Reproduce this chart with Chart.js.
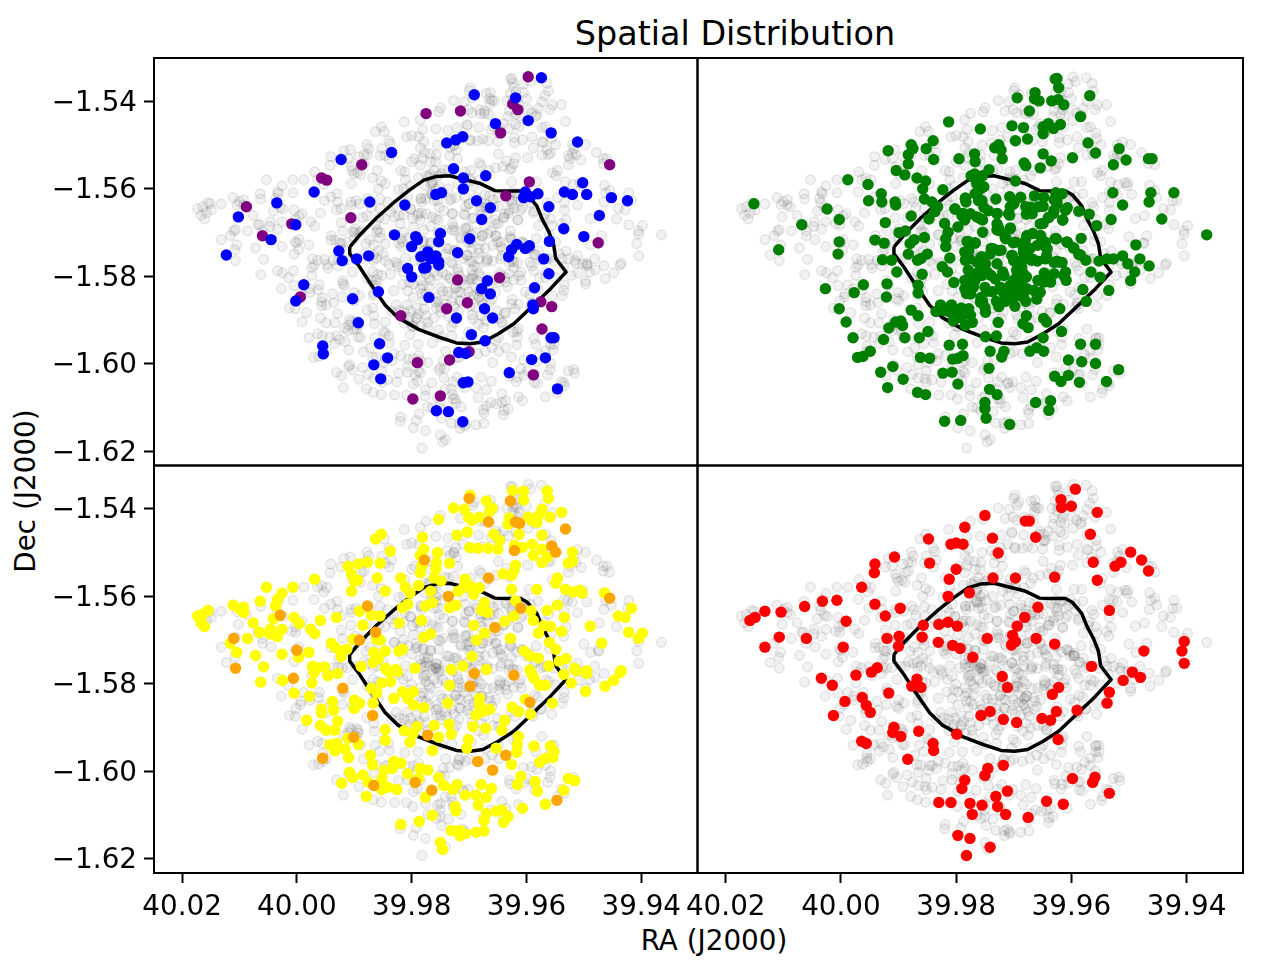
<!DOCTYPE html>
<html><head><meta charset="utf-8">
<script src="https://cdn.jsdelivr.net/npm/chart.js@4"></script>
<style>
html,body{margin:0;padding:0;background:#fff;width:1280px;height:960px;overflow:hidden}
canvas{position:absolute;left:0;top:0}
.t{position:absolute;font-family:"DejaVu Sans";color:#000;white-space:nowrap;transform:translate(-50%,-50%)}
</style></head><body>
<div class="t" style="left:735px;top:33px;font-size:33.4px">Spatial Distribution</div>
<div class="t" style="left:714px;top:940px;font-size:27.8px">RA (J2000)</div>
<div class="t" style="left:25px;top:491px;font-size:27.8px;transform:translate(-50%,-50%) rotate(-90deg)">Dec (J2000)</div>
<canvas id="c0" width="1280" height="960"></canvas>
<canvas id="c1" width="1280" height="960"></canvas>
<canvas id="c2" width="1280" height="960"></canvas>
<canvas id="c3" width="1280" height="960"></canvas>
<script>
const raTicks=[40.02,40.00,39.98,39.96,39.94];
const decTicks=[-1.54,-1.56,-1.58,-1.60,-1.62];
const contour=[[39.9908,-1.5733],[39.9891,-1.5706],[39.9861,-1.5666],[39.9831,-1.5631],[39.9804,-1.5603],[39.9779,-1.5580],[39.9758,-1.5572],[39.9734,-1.5570],[39.9710,-1.5578],[39.9682,-1.5587],[39.9655,-1.5604],[39.9637,-1.5605],[39.9610,-1.5605],[39.9598,-1.5614],[39.9582,-1.5639],[39.9573,-1.5668],[39.9561,-1.5698],[39.9553,-1.5725],[39.9549,-1.5759],[39.9531,-1.5790],[39.9558,-1.5828],[39.9588,-1.5866],[39.9622,-1.5908],[39.9649,-1.5931],[39.9676,-1.5950],[39.9698,-1.5954],[39.9722,-1.5952],[39.9752,-1.5939],[39.9788,-1.5921],[39.9825,-1.5893],[39.9846,-1.5866],[39.9870,-1.5820],[39.9891,-1.5778],[39.9908,-1.5748],[39.9908,-1.5733]];
const purple=[[39.9775,-1.5428],[39.9887,-1.5545],[39.9957,-1.5575],[39.9948,-1.5580],[40.0088,-1.5641],[40.0009,-1.5680],[39.9906,-1.5666],[40.0060,-1.5707],[39.9597,-1.5344],[39.9715,-1.5422],[39.9624,-1.5406],[39.9615,-1.5419],[39.9645,-1.5472],[39.9455,-1.5545],[39.9595,-1.5584],[39.9636,-1.5616],[39.9475,-1.5723],[39.9994,-1.5847],[39.9819,-1.5890],[39.9790,-1.5997],[39.9798,-1.6080],[39.9720,-1.5808],[39.9647,-1.5803],[39.9703,-1.5860],[39.9739,-1.5874],[39.9575,-1.5858],[39.9556,-1.5869],[39.9573,-1.5920],[39.9700,-1.5972],[39.9734,-1.5991],[39.9588,-1.6025],[39.9750,-1.6073]];
const blue=[[39.9835,-1.5517],[39.9923,-1.5533],[39.9970,-1.5607],[40.0035,-1.5632],[39.9873,-1.5630],[39.9812,-1.5637],[40.0102,-1.5664],[40.0002,-1.5682],[40.0045,-1.5716],[39.9830,-1.5705],[39.9793,-1.5709],[39.9790,-1.5716],[39.9800,-1.5732],[40.0123,-1.5751],[39.9927,-1.5742],[39.9875,-1.5753],[39.9896,-1.5760],[39.9921,-1.5764],[39.9784,-1.5755],[39.9775,-1.5751],[39.9772,-1.5744],[39.9758,-1.5753],[39.9753,-1.5767],[39.9753,-1.5774],[39.9775,-1.5780],[39.9767,-1.5759],[39.9800,-1.5801],[39.9807,-1.5782],[39.9574,-1.5346],[39.9691,-1.5385],[39.9619,-1.5392],[39.9597,-1.5444],[39.9654,-1.5451],[39.9557,-1.5472],[39.9511,-1.5493],[39.9739,-1.5495],[39.9723,-1.5488],[39.9711,-1.5481],[39.9727,-1.5554],[39.9671,-1.5570],[39.9710,-1.5575],[39.9710,-1.5600],[39.9502,-1.5586],[39.9534,-1.5607],[39.9520,-1.5613],[39.9495,-1.5613],[39.9452,-1.5620],[39.9424,-1.5627],[39.9758,-1.5613],[39.9748,-1.5609],[39.9687,-1.5627],[39.9663,-1.5643],[39.9602,-1.5607],[39.9605,-1.5620],[39.9593,-1.5618],[39.9580,-1.5611],[39.9561,-1.5641],[39.9473,-1.5661],[39.9678,-1.5670],[39.9535,-1.5691],[39.9500,-1.5709],[39.9750,-1.5702],[39.9753,-1.5721],[39.9699,-1.5714],[39.9560,-1.5720],[39.9617,-1.5727],[39.9626,-1.5739],[39.9631,-1.5755],[39.9595,-1.5730],[39.9602,-1.5736],[39.9720,-1.5746],[39.9570,-1.5760],[39.9988,-1.5819],[40.0002,-1.5856],[39.9903,-1.5851],[39.9893,-1.5906],[39.9858,-1.5835],[39.9955,-1.5959],[39.9954,-1.5977],[39.9856,-1.5954],[39.9842,-1.5986],[39.9866,-1.6002],[39.9854,-1.6034],[39.9779,-1.5781],[39.9668,-1.5810],[39.9678,-1.5828],[39.9663,-1.5840],[39.9770,-1.5848],[39.9561,-1.5794],[39.9586,-1.5826],[39.9673,-1.5874],[39.9659,-1.5895],[39.9722,-1.5895],[39.9589,-1.5865],[39.9588,-1.5874],[39.9696,-1.5933],[39.9672,-1.5947],[39.9557,-1.5940],[39.9552,-1.5940],[39.9718,-1.5974],[39.9706,-1.5976],[39.9591,-1.5990],[39.9567,-1.5986],[39.9630,-1.6020],[39.9710,-1.6043],[39.9702,-1.6041],[39.9546,-1.6057],[39.9757,-1.6107],[39.9736,-1.6109],[39.9711,-1.6132]];
const red=[[39.9593,-1.5355],[39.9618,-1.5379],[39.9617,-1.5397],[39.9600,-1.5394],[39.9555,-1.5408],[39.9750,-1.5415],[39.9680,-1.5428],[39.9673,-1.5428],[39.9785,-1.5442],[39.9567,-1.5458],[39.9848,-1.5469],[39.9737,-1.5467],[39.9662,-1.5465],[39.9809,-1.5481],[39.9800,-1.5478],[39.9788,-1.5481],[39.9727,-1.5501],[39.9497,-1.5499],[39.9907,-1.5510],[39.9941,-1.5526],[39.9942,-1.5546],[39.9846,-1.5524],[39.9562,-1.5522],[39.9514,-1.5522],[39.9524,-1.5531],[39.9478,-1.5517],[39.9466,-1.5542],[39.9800,-1.5538],[39.9812,-1.5561],[39.9736,-1.5558],[39.9697,-1.5558],[39.9629,-1.5556],[39.9555,-1.5563],[39.9964,-1.5579],[39.9814,-1.5600],[39.9777,-1.5592],[40.0032,-1.5611],[40.0007,-1.5609],[40.0063,-1.5623],[39.9941,-1.5618],[39.9897,-1.5627],[40.0132,-1.5634],[40.0104,-1.5636],[40.0149,-1.5648],[40.0158,-1.5655],[39.9923,-1.5645],[39.9991,-1.5657],[39.9658,-1.5625],[39.9534,-1.5632],[39.9681,-1.5648],[39.9857,-1.5666],[39.9830,-1.5664],[39.9814,-1.5659],[39.9798,-1.5668],[39.9694,-1.5668],[40.0107,-1.5693],[40.0060,-1.5696],[39.9920,-1.5696],[39.9899,-1.5691],[39.9859,-1.5693],[39.9831,-1.5705],[39.9746,-1.5696],[39.9702,-1.5689],[39.9697,-1.5703],[39.9704,-1.5711],[39.9661,-1.5696],[39.9629,-1.5709],[39.9404,-1.5703],[39.9408,-1.5725],[39.9474,-1.5725],[40.0132,-1.5716],[39.9996,-1.5716],[39.9900,-1.5714],[39.9806,-1.5712],[39.9793,-1.5719],[39.9771,-1.5739],[39.9404,-1.5753],[39.9565,-1.5760],[39.9937,-1.5763],[39.9947,-1.5773],[39.9974,-1.5780],[40.0034,-1.5787],[40.0015,-1.5803],[39.9720,-1.5783],[39.9494,-1.5773],[39.9480,-1.5785],[39.9510,-1.5792],[39.9868,-1.5789],[39.9877,-1.5805],[39.9861,-1.5808],[39.9711,-1.5808],[39.9622,-1.5808],[39.9633,-1.5824],[39.9917,-1.5821],[39.9963,-1.5831],[39.9993,-1.5840],[39.9534,-1.5819],[39.9538,-1.5844],[39.9956,-1.5849],[39.9949,-1.5865],[40.0013,-1.5872],[39.9741,-1.5863],[39.9757,-1.5872],[39.9626,-1.5863],[39.9590,-1.5860],[39.9651,-1.5879],[39.9636,-1.5883],[39.9718,-1.5881],[39.9695,-1.5888],[39.9908,-1.5899],[39.9865,-1.5908],[39.9910,-1.5911],[39.9896,-1.5920],[39.9799,-1.5915],[39.9964,-1.5931],[39.9956,-1.5936],[39.9623,-1.5927],[39.9840,-1.5936],[39.9839,-1.5952],[39.9884,-1.5972],[39.9718,-1.5986],[39.9745,-1.5993],[39.9750,-1.6009],[39.9598,-1.6016],[39.9559,-1.6013],[39.9563,-1.6025],[39.9785,-1.6020],[39.9790,-1.6039],[39.9711,-1.6045],[39.9731,-1.6057],[39.9534,-1.6050],[39.9643,-1.6068],[39.9830,-1.6071],[39.9809,-1.6071],[39.9776,-1.6073],[39.9755,-1.6077],[39.9728,-1.6080],[39.9614,-1.6075],[39.9772,-1.6098],[39.9714,-1.6098],[39.9675,-1.6105],[39.9797,-1.6146],[39.9776,-1.6153],[39.9741,-1.6173],[39.9782,-1.6192]];
const greenOuter=[[39.9625,-1.5348],[39.9628,-1.5349],[39.9622,-1.5369],[39.9568,-1.5387],[39.9694,-1.5392],[39.9663,-1.5380],[39.9664,-1.5394],[39.9656,-1.5399],[39.9634,-1.5399],[39.9623,-1.5396],[39.9613,-1.5408],[39.9673,-1.5422],[39.9584,-1.5435],[39.9813,-1.5447],[39.9758,-1.5463],[39.9703,-1.5456],[39.9683,-1.5460],[39.9649,-1.5458],[39.9640,-1.5451],[39.9631,-1.5462],[39.9619,-1.5453],[39.9649,-1.5474],[39.9676,-1.5486],[39.9697,-1.5490],[39.9840,-1.5490],[39.9878,-1.5499],[39.9875,-1.5508],[39.9852,-1.5508],[39.9733,-1.5506],[39.9726,-1.5499],[39.9722,-1.5511],[39.9571,-1.5495],[39.9918,-1.5513],[39.9883,-1.5522],[39.9649,-1.5520],[39.9558,-1.5518],[39.9517,-1.5508],[39.9768,-1.5520],[39.9720,-1.5531],[39.9598,-1.5529],[39.9795,-1.5531],[39.9839,-1.5533],[39.9767,-1.5538],[39.9635,-1.5536],[39.9505,-1.5534],[39.9466,-1.5531],[39.9460,-1.5531],[39.9883,-1.5543],[39.9682,-1.5541],[39.9679,-1.5547],[39.9654,-1.5552],[39.9527,-1.5545],[39.9743,-1.5556],[39.9904,-1.5558],[39.9889,-1.5568],[39.9768,-1.5566],[39.9754,-1.5570],[39.9774,-1.5570],[39.9868,-1.5575],[39.9853,-1.5582],[39.9988,-1.5579],[39.9953,-1.5590],[39.9697,-1.5582],[39.9764,-1.5584],[39.9752,-1.5595],[39.9823,-1.5602],[39.9858,-1.5600],[39.9930,-1.5611],[39.9528,-1.5609],[39.9462,-1.5609],[39.9422,-1.5609],[39.9764,-1.5611],[39.9784,-1.5621],[39.9627,-1.5609],[39.9707,-1.5618],[39.9664,-1.5616],[39.9731,-1.5623],[39.9855,-1.5623],[39.9952,-1.5627],[39.9929,-1.5630],[39.9906,-1.5630],[39.9905,-1.5637],[39.9755,-1.5627],[39.9630,-1.5625],[39.9465,-1.5630],[39.9511,-1.5637],[40.0024,-1.5646],[40.0151,-1.5634],[39.9842,-1.5630],[39.9832,-1.5641],[39.9783,-1.5630],[39.9700,-1.5634],[39.9706,-1.5641],[39.9657,-1.5641],[39.9679,-1.5641],[39.9625,-1.5634],[39.9607,-1.5643],[39.9802,-1.5646],[39.9587,-1.5651],[39.9569,-1.5658],[39.9837,-1.5652],[39.9678,-1.5658],[39.9878,-1.5662],[39.9744,-1.5650],[39.9729,-1.5656],[39.9707,-1.5660],[39.9788,-1.5656],[39.9764,-1.5664],[39.9631,-1.5656],[39.9640,-1.5666],[39.9615,-1.5671],[39.9443,-1.5669],[39.9785,-1.5671],[39.9847,-1.5669],[39.9754,-1.5671],[40.0003,-1.5670],[39.9531,-1.5670],[39.9923,-1.5677],[40.0068,-1.5682],[39.9820,-1.5679],[39.9797,-1.5687],[39.9649,-1.5679],[39.9556,-1.5684],[39.9727,-1.5687],[39.9706,-1.5689],[39.9814,-1.5699],[39.9725,-1.5695],[39.9365,-1.5705],[39.9899,-1.5700],[39.9888,-1.5696],[39.9754,-1.5699],[39.9677,-1.5707],[39.9653,-1.5707],[39.9855,-1.5711],[39.9583,-1.5713],[39.9941,-1.5717],[39.9925,-1.5724],[39.9873,-1.5716],[39.9880,-1.5725],[39.9818,-1.5714],[39.9714,-1.5714],[39.9667,-1.5702],[39.9626,-1.5714],[39.9608,-1.5721],[40.0003,-1.5721],[39.9779,-1.5720],[39.9767,-1.5723],[39.9701,-1.5723],[39.9680,-1.5719],[39.9650,-1.5721],[39.9488,-1.5728],[40.0108,-1.5739],[39.9818,-1.5732],[39.9596,-1.5735],[39.9739,-1.5736],[39.9722,-1.5740],[39.9672,-1.5736],[39.9645,-1.5732],[39.9883,-1.5749],[40.0005,-1.5749],[39.9785,-1.5744],[39.9584,-1.5751],[39.9850,-1.5749],[39.9511,-1.5753],[39.9481,-1.5760],[39.9527,-1.5760],[39.9552,-1.5765],[39.9928,-1.5762],[39.9811,-1.5758],[39.9861,-1.5759],[39.9703,-1.5752],[39.9756,-1.5755],[39.9683,-1.5746],[39.9643,-1.5753],[39.9622,-1.5767],[39.9764,-1.5767],[39.9668,-1.5760],[39.9912,-1.5763],[39.9903,-1.5790],[39.9867,-1.5763],[39.9824,-1.5778],[39.9815,-1.5790],[39.9784,-1.5763],[39.9759,-1.5764],[39.9757,-1.5765],[39.9695,-1.5765],[39.9669,-1.5763],[39.9625,-1.5765],[39.9575,-1.5763],[39.9538,-1.5760],[39.9502,-1.5771],[39.9465,-1.5776],[39.9490,-1.5790],[39.9859,-1.5795],[39.9779,-1.5786],[39.9761,-1.5790],[39.9746,-1.5790],[39.9719,-1.5790],[39.9695,-1.5786],[39.9613,-1.5798],[39.9566,-1.5790],[39.9550,-1.5802],[39.9638,-1.5802],[39.9647,-1.5792],[39.9866,-1.5820],[39.9804,-1.5814],[39.9785,-1.5809],[39.9770,-1.5802],[39.9740,-1.5797],[39.9694,-1.5805],[39.9678,-1.5801],[39.9658,-1.5809],[39.9497,-1.5810],[39.9920,-1.5817],[39.9961,-1.5819],[40.0027,-1.5828],[39.9977,-1.5837],[39.9785,-1.5828],[39.9782,-1.5839],[39.9750,-1.5825],[39.9724,-1.5827],[39.9706,-1.5820],[39.9688,-1.5827],[39.9681,-1.5833],[39.9677,-1.5828],[39.9535,-1.5832],[39.9580,-1.5830],[39.9866,-1.5838],[39.9921,-1.5847],[39.9737,-1.5835],[39.9719,-1.5835],[39.9701,-1.5835],[39.9692,-1.5843],[39.9757,-1.5848],[39.9660,-1.5852],[39.9574,-1.5857],[39.9730,-1.5857],[39.9715,-1.5857],[39.9679,-1.5857],[39.9754,-1.5857],[39.9750,-1.5871],[39.9698,-1.5868],[39.9620,-1.5874],[39.9827,-1.5865],[39.9808,-1.5865],[39.9791,-1.5872],[39.9778,-1.5874],[39.9878,-1.5877],[40.0003,-1.5874],[39.9835,-1.5880],[39.9813,-1.5880],[39.9866,-1.5890],[39.9792,-1.5894],[39.9805,-1.5902],[39.9678,-1.5890],[39.9648,-1.5896],[39.9643,-1.5904],[39.9991,-1.5904],[39.9896,-1.5902],[39.9905,-1.5904],[39.9893,-1.5912],[39.9917,-1.5918],[39.9727,-1.5905],[39.9684,-1.5908],[39.9675,-1.5917],[39.9617,-1.5926],[39.9849,-1.5926],[39.9979,-1.5940],[39.9926,-1.5944],[39.9889,-1.5940],[39.9864,-1.5940],[39.9749,-1.5938],[39.9730,-1.5936],[39.9649,-1.5940],[39.9812,-1.5957],[39.9789,-1.5955],[39.9584,-1.5955],[39.9558,-1.5955],[39.9949,-1.5971],[39.9741,-1.5971],[39.9717,-1.5971],[39.9721,-1.5984],[39.9672,-1.5971],[39.9660,-1.5963],[39.9648,-1.5971],[39.9971,-1.5985],[39.9962,-1.5983],[39.9862,-1.5985],[39.9846,-1.5987],[39.9806,-1.5989],[39.9797,-1.5987],[39.9788,-1.5981],[39.9605,-1.5991],[39.9582,-1.5995],[39.9558,-1.5999],[39.9518,-1.6013],[39.9910,-1.6006],[39.9743,-1.6010],[39.9931,-1.6019],[39.9823,-1.6021],[39.9807,-1.6019],[39.9629,-1.6028],[39.9605,-1.6026],[39.9618,-1.6040],[39.9892,-1.6035],[39.9586,-1.6042],[39.9539,-1.6040],[39.9797,-1.6046],[39.9919,-1.6054],[39.9742,-1.6058],[39.9867,-1.6065],[39.9853,-1.6070],[39.9729,-1.6070],[39.9662,-1.6088],[39.9636,-1.6084],[39.9750,-1.6088],[39.9750,-1.6102],[39.9639,-1.6106],[39.9748,-1.6124],[39.9820,-1.6131],[39.9792,-1.6129],[39.9707,-1.6138]];
const greenCore=[[39.9770,-1.5573],[39.9764,-1.5588],[39.9758,-1.5600],[39.9767,-1.5611],[39.9761,-1.5627],[39.9752,-1.5642],[39.9784,-1.5623],[39.9775,-1.5657],[39.9790,-1.5661],[39.9802,-1.5646],[39.9758,-1.5668],[39.9729,-1.5657],[39.9709,-1.5657],[39.9700,-1.5634],[39.9688,-1.5619],[39.9670,-1.5642],[39.9668,-1.5657],[39.9648,-1.5619],[39.9649,-1.5640],[39.9625,-1.5627],[39.9616,-1.5611],[39.9630,-1.5649],[39.9610,-1.5649],[39.9639,-1.5665],[39.9615,-1.5671],[39.9654,-1.5680],[39.9729,-1.5680],[39.9729,-1.5694],[39.9706,-1.5691],[39.9715,-1.5710],[39.9697,-1.5722],[39.9677,-1.5707],[39.9654,-1.5707],[39.9645,-1.5722],[39.9628,-1.5714],[39.9607,-1.5722],[39.9596,-1.5735],[39.9587,-1.5750],[39.9642,-1.5737],[39.9659,-1.5729],[39.9683,-1.5737],[39.9781,-1.5720],[39.9767,-1.5724],[39.9735,-1.5737],[39.9726,-1.5741],[39.9741,-1.5749],[39.9778,-1.5741],[39.9777,-1.5760],[39.9758,-1.5762],[39.9749,-1.5771],[39.9729,-1.5771],[39.9703,-1.5752],[39.9700,-1.5764],[39.9683,-1.5760],[39.9659,-1.5765],[39.9645,-1.5760],[39.9630,-1.5768],[39.9616,-1.5768],[39.9686,-1.5779],[39.9683,-1.5794],[39.9686,-1.5809],[39.9700,-1.5809],[39.9694,-1.5798],[39.9717,-1.5798],[39.9732,-1.5806],[39.9755,-1.5798],[39.9775,-1.5794],[39.9767,-1.5809],[39.9781,-1.5821],[39.9770,-1.5825],[39.9746,-1.5834],[39.9775,-1.5840],[39.9723,-1.5825],[39.9715,-1.5836],[39.9717,-1.5855],[39.9726,-1.5869],[39.9700,-1.5848],[39.9683,-1.5848],[39.9665,-1.5832],[39.9654,-1.5836],[39.9648,-1.5813],[39.9636,-1.5813],[39.9645,-1.5798],[39.9610,-1.5790],[39.9609,-1.5809],[39.9630,-1.5794],[39.9758,-1.5859],[39.9749,-1.5882],[39.9802,-1.5878],[39.9804,-1.5893],[39.9822,-1.5878],[39.9787,-1.5886],[39.9775,-1.5889],[39.9772,-1.5905],[39.9784,-1.5912]];
const green=[...greenOuter,...greenCore];
const orange=[[39.9700,-1.5376],[39.9628,-1.5382],[39.9666,-1.5430],[39.9619,-1.5430],[39.9612,-1.5433],[39.9532,-1.5446],[39.9556,-1.5485],[39.9549,-1.5499],[39.9621,-1.5495],[39.9778,-1.5517],[39.9666,-1.5558],[39.9736,-1.5600],[39.9455,-1.5604],[39.9877,-1.5622],[39.9610,-1.5627],[40.0029,-1.5643],[39.9655,-1.5671],[39.9863,-1.5682],[40.0110,-1.5696],[39.9891,-1.5700],[40.0000,-1.5723],[40.0107,-1.5764],[39.9691,-1.5776],[40.0006,-1.5787],[39.9920,-1.5810],[39.9622,-1.5780],[39.9698,-1.5805],[39.9594,-1.5842],[39.9868,-1.5872],[39.9772,-1.5917],[39.9901,-1.5922],[39.9636,-1.5963],[39.9955,-1.5970],[39.9685,-1.5977],[39.9659,-1.5997],[39.9794,-1.6025],[39.9866,-1.6032],[39.9765,-1.6043],[39.9547,-1.6066]];
const yellow=[[39.9698,-1.5369],[39.9670,-1.5382],[39.9624,-1.5358],[39.9605,-1.5360],[39.9605,-1.5380],[39.9564,-1.5359],[39.9562,-1.5376],[39.9727,-1.5398],[39.9708,-1.5401],[39.9660,-1.5398],[39.9664,-1.5406],[39.9573,-1.5401],[39.9539,-1.5408],[39.9701,-1.5419],[39.9695,-1.5426],[39.9682,-1.5419],[39.9753,-1.5424],[39.9630,-1.5421],[39.9632,-1.5435],[39.9597,-1.5419],[39.9591,-1.5426],[39.9582,-1.5431],[39.9579,-1.5416],[39.9559,-1.5419],[39.9853,-1.5458],[39.9863,-1.5469],[39.9781,-1.5465],[39.9721,-1.5460],[39.9703,-1.5453],[39.9657,-1.5458],[39.9647,-1.5472],[39.9613,-1.5458],[39.9573,-1.5460],[39.9837,-1.5497],[39.9779,-1.5492],[39.9699,-1.5488],[39.9685,-1.5490],[39.9667,-1.5490],[39.9650,-1.5492],[39.9621,-1.5483],[39.9607,-1.5488],[39.9590,-1.5481],[39.9588,-1.5506],[39.9573,-1.5492],[39.9785,-1.5506],[39.9755,-1.5500],[39.9855,-1.5524],[39.9911,-1.5531],[39.9893,-1.5526],[39.9877,-1.5522],[39.9757,-1.5523],[39.9734,-1.5524],[39.9520,-1.5499],[39.9573,-1.5523],[39.9564,-1.5511],[39.9527,-1.5524],[39.9520,-1.5520],[39.9782,-1.5530],[39.9758,-1.5538],[39.9785,-1.5546],[39.9619,-1.5529],[39.9622,-1.5542],[39.9641,-1.5549],[39.9626,-1.5552],[39.9905,-1.5549],[39.9860,-1.5558],[39.9969,-1.5561],[39.9900,-1.5565],[39.9894,-1.5563],[39.9819,-1.5558],[39.9761,-1.5558],[39.9749,-1.5565],[39.9546,-1.5558],[39.9549,-1.5570],[39.9707,-1.5561],[39.9788,-1.5575],[39.9811,-1.5579],[39.9803,-1.5593],[40.0053,-1.5579],[40.0007,-1.5579],[39.9905,-1.5588],[39.9846,-1.5588],[39.9767,-1.5588],[39.9719,-1.5588],[39.9710,-1.5580],[39.9698,-1.5576],[39.9682,-1.5580],[39.9692,-1.5595],[39.9626,-1.5584],[39.9582,-1.5584],[39.9532,-1.5584],[39.9519,-1.5590],[39.9507,-1.5586],[39.9503,-1.5593],[39.9464,-1.5592],[40.0026,-1.5593],[40.0034,-1.5607],[40.0064,-1.5611],[40.0037,-1.5622],[40.0111,-1.5620],[40.0100,-1.5629],[40.0093,-1.5625],[40.0093,-1.5637],[39.9764,-1.5614],[39.9776,-1.5622],[39.9816,-1.5626],[39.9807,-1.5618],[39.9734,-1.5626],[39.9723,-1.5620],[39.9673,-1.5614],[39.9679,-1.5631],[39.9668,-1.5637],[39.9619,-1.5610],[39.9622,-1.5645],[39.9592,-1.5633],[39.9564,-1.5632],[39.9546,-1.5620],[39.9417,-1.5627],[39.9891,-1.5634],[39.9870,-1.5643],[39.9855,-1.5645],[40.0155,-1.5632],[40.0164,-1.5641],[40.0173,-1.5645],[40.0167,-1.5660],[40.0161,-1.5669],[40.0041,-1.5651],[40.0005,-1.5648],[39.9996,-1.5662],[39.9959,-1.5655],[39.9931,-1.5648],[39.9534,-1.5648],[39.9588,-1.5655],[39.9440,-1.5645],[39.9428,-1.5648],[40.0076,-1.5661],[39.9885,-1.5666],[39.9822,-1.5661],[39.9783,-1.5655],[39.9692,-1.5666],[39.9638,-1.5657],[39.9570,-1.5667],[39.9558,-1.5669],[39.9539,-1.5680],[39.9489,-1.5668],[40.0065,-1.5682],[40.0046,-1.5675],[40.0026,-1.5675],[40.0047,-1.5686],[40.0034,-1.5692],[39.9976,-1.5675],[39.9969,-1.5685],[39.9673,-1.5684],[39.9579,-1.5684],[39.9422,-1.5682],[39.9398,-1.5684],[39.9405,-1.5696],[40.0086,-1.5696],[40.0116,-1.5707],[39.9940,-1.5707],[39.9902,-1.5698],[39.9861,-1.5698],[39.9855,-1.5700],[39.9767,-1.5686],[39.9779,-1.5694],[39.9687,-1.5700],[39.9628,-1.5696],[39.9560,-1.5705],[39.9469,-1.5707],[40.0105,-1.5728],[40.0072,-1.5735],[40.0026,-1.5732],[39.9997,-1.5739],[39.9979,-1.5728],[39.9933,-1.5717],[39.9922,-1.5725],[39.9913,-1.5721],[39.9923,-1.5738],[39.9816,-1.5721],[39.9822,-1.5725],[39.9846,-1.5725],[39.9866,-1.5728],[39.9858,-1.5742],[39.9867,-1.5751],[39.9695,-1.5737],[39.9604,-1.5725],[39.9594,-1.5736],[39.9579,-1.5741],[39.9549,-1.5721],[39.9543,-1.5748],[39.9531,-1.5742],[40.0058,-1.5761],[39.9973,-1.5760],[39.9964,-1.5763],[39.9952,-1.5761],[39.9888,-1.5760],[39.9846,-1.5764],[39.9828,-1.5767],[39.9794,-1.5764],[39.9731,-1.5767],[39.9711,-1.5759],[39.9670,-1.5767],[39.9561,-1.5759],[39.9594,-1.5768],[39.9516,-1.5764],[39.9495,-1.5770],[39.9435,-1.5770],[40.0063,-1.5796],[40.0025,-1.5792],[39.9974,-1.5798],[40.0005,-1.5821],[39.9978,-1.5828],[39.9970,-1.5774],[39.9946,-1.5781],[39.9929,-1.5776],[39.9840,-1.5772],[39.9825,-1.5772],[39.9591,-1.5776],[39.9587,-1.5787],[39.9577,-1.5803],[39.9567,-1.5803],[39.9535,-1.5778],[39.9514,-1.5770],[39.9495,-1.5776],[39.9437,-1.5774],[39.9448,-1.5792],[39.9463,-1.5805],[39.9522,-1.5798],[39.9497,-1.5817],[39.9870,-1.5810],[39.9852,-1.5798],[39.9837,-1.5795],[39.9861,-1.5821],[39.9831,-1.5833],[39.9816,-1.5818],[39.9797,-1.5818],[39.9807,-1.5833],[39.9797,-1.5848],[39.9734,-1.5803],[39.9779,-1.5854],[39.9867,-1.5844],[39.9900,-1.5837],[39.9891,-1.5844],[39.9900,-1.5856],[39.9938,-1.5840],[39.9936,-1.5860],[39.9957,-1.5858],[39.9957,-1.5867],[39.9737,-1.5844],[39.9682,-1.5833],[39.9682,-1.5848],[39.9664,-1.5858],[39.9676,-1.5863],[39.9688,-1.5871],[39.9625,-1.5853],[39.9602,-1.5835],[39.9614,-1.5863],[39.9593,-1.5869],[39.9555,-1.5844],[39.9983,-1.5883],[39.9929,-1.5885],[39.9959,-1.5895],[39.9949,-1.5906],[39.9934,-1.5906],[39.9846,-1.5904],[39.9813,-1.5907],[39.9791,-1.5897],[39.9797,-1.5913],[39.9761,-1.5895],[39.9735,-1.5892],[39.9638,-1.5883],[39.9693,-1.5897],[39.9671,-1.5901],[39.9643,-1.5906],[39.9731,-1.5915],[39.9911,-1.5924],[39.9846,-1.5929],[39.9753,-1.5922],[39.9803,-1.5933],[39.9701,-1.5927],[39.9614,-1.5920],[39.9893,-1.5938],[39.9943,-1.5939],[39.9931,-1.5936],[39.9916,-1.5949],[39.9934,-1.5953],[39.9910,-1.5968],[39.9764,-1.5952],[39.9704,-1.5947],[39.9653,-1.5947],[39.9616,-1.5939],[39.9617,-1.5956],[39.9587,-1.5942],[39.9558,-1.5942],[39.9552,-1.5955],[39.9567,-1.5970],[39.9577,-1.5979],[39.9554,-1.5968],[39.9872,-1.5963],[39.9868,-1.5985],[39.9831,-1.5977],[39.9819,-1.5981],[39.9834,-1.5993],[39.9848,-1.5997],[39.9626,-1.5984],[39.9908,-1.6002],[39.9903,-1.6014],[39.9885,-1.6008],[39.9876,-1.6024],[39.9852,-1.6016],[39.9807,-1.6005],[39.9785,-1.5993],[39.9772,-1.5997],[39.9788,-1.6016],[39.9610,-1.6011],[39.9616,-1.6030],[39.9585,-1.6023],[39.9527,-1.6016],[39.9516,-1.6021],[39.9753,-1.6014],[39.9744,-1.6032],[39.9728,-1.6041],[39.9721,-1.6030],[39.9679,-1.6030],[39.9661,-1.6039],[39.9688,-1.6054],[39.9670,-1.6059],[39.9581,-1.6045],[39.9535,-1.6043],[39.9922,-1.6027],[39.9852,-1.6042],[39.9842,-1.6036],[39.9826,-1.6041],[39.9879,-1.6057],[39.9776,-1.6059],[39.9707,-1.6054],[39.9567,-1.6075],[39.9684,-1.6077],[39.9724,-1.6080],[39.9723,-1.6090],[39.9607,-1.6084],[39.9670,-1.6096],[39.9652,-1.6091],[39.9643,-1.6088],[39.9632,-1.6103],[39.9640,-1.6116],[39.9674,-1.6112],[39.9764,-1.6100],[39.9787,-1.6114],[39.9819,-1.6121],[39.9731,-1.6135],[39.9717,-1.6135],[39.9707,-1.6142],[39.9716,-1.6147],[39.9688,-1.6139],[39.9674,-1.6136],[39.9750,-1.6162],[39.9746,-1.6178]];

const allPoints=[...purple,...blue,...green,...yellow,...orange,...red];
const toXY=a=>a.map(([x,y])=>({x,y}));
const gray={label:'all',data:toXY(allPoints),backgroundColor:'rgba(0,0,0,0.05)',borderColor:'rgba(0,0,0,0.09)',borderWidth:1.5,pointRadius:4.8,order:10};
const line={label:'contour',data:toXY(contour),showLine:true,borderColor:'#000',borderWidth:3.5,borderJoinStyle:'round',pointRadius:0,tension:0,fill:false,order:9};
const dots=(d,c,o)=>({label:c,data:toXY(d),backgroundColor:c,borderColor:c,borderWidth:0,pointRadius:5.7,order:o});
const borderPlugin={id:'frame',afterDraw(ch){const a=ch.chartArea,x=ch.ctx;x.save();x.strokeStyle='#000';x.lineWidth=2;x.strokeRect(a.left,a.top,a.right-a.left,a.bottom-a.top);x.restore();}};
const font={family:'"DejaVu Sans"',size:27.8};
function panel(id,col,row,series){
  const showY=col===0,showX=row===1;
  const padding={left:col===0?0:697.5,right:col===0?582.5:37,top:row===0?58:465.5,bottom:row===0?494.5:0};
  new Chart(document.getElementById(id),{type:'scatter',
    data:{datasets:[{...gray},{...line},...series]},
    options:{responsive:false,animation:false,layout:{padding},
      plugins:{legend:{display:false},tooltip:{enabled:false},title:{display:false}},
      scales:{
        x:{type:'linear',reverse:true,min:39.9302,max:40.0249,
          afterBuildTicks:s=>{s.ticks=raTicks.map(value=>({value}));},
          afterFit:s=>{s.height=showX?87:0;s.paddingLeft=0;s.paddingRight=0;},
          border:{display:false},
          grid:{display:showX,drawOnChartArea:false,drawTicks:true,tickLength:10,tickWidth:2,tickColor:'#000'},
          ticks:{display:showX,color:'#000',font,padding:8,maxRotation:0,minRotation:0,autoSkip:false,callback:v=>v.toFixed(2)}},
        y:{type:'linear',min:-1.6232,max:-1.5301,
          afterBuildTicks:s=>{s.ticks=decTicks.map(value=>({value}));},
          afterFit:s=>{s.width=showY?154:0;s.paddingTop=0;s.paddingBottom=0;},
          border:{display:false},
          grid:{display:showY,drawOnChartArea:false,drawTicks:true,tickLength:10,tickWidth:2,tickColor:'#000'},
          ticks:{display:showY,color:'#000',font,padding:7,labelOffset:2,autoSkip:false,callback:v=>'\u2212'+Math.abs(v).toFixed(2)}}
      }},
    plugins:[borderPlugin]});
}
panel('c0',0,0,[dots(purple,'#800080',8),dots(blue,'#0000ff',7)]);
panel('c1',1,0,[dots(green,'#008000',8)]);
panel('c2',0,1,[dots(yellow,'#ffff00',8),dots(orange,'#ffa500',7)]);
panel('c3',1,1,[dots(red,'#ff0000',8)]);
</script>
</body></html>
